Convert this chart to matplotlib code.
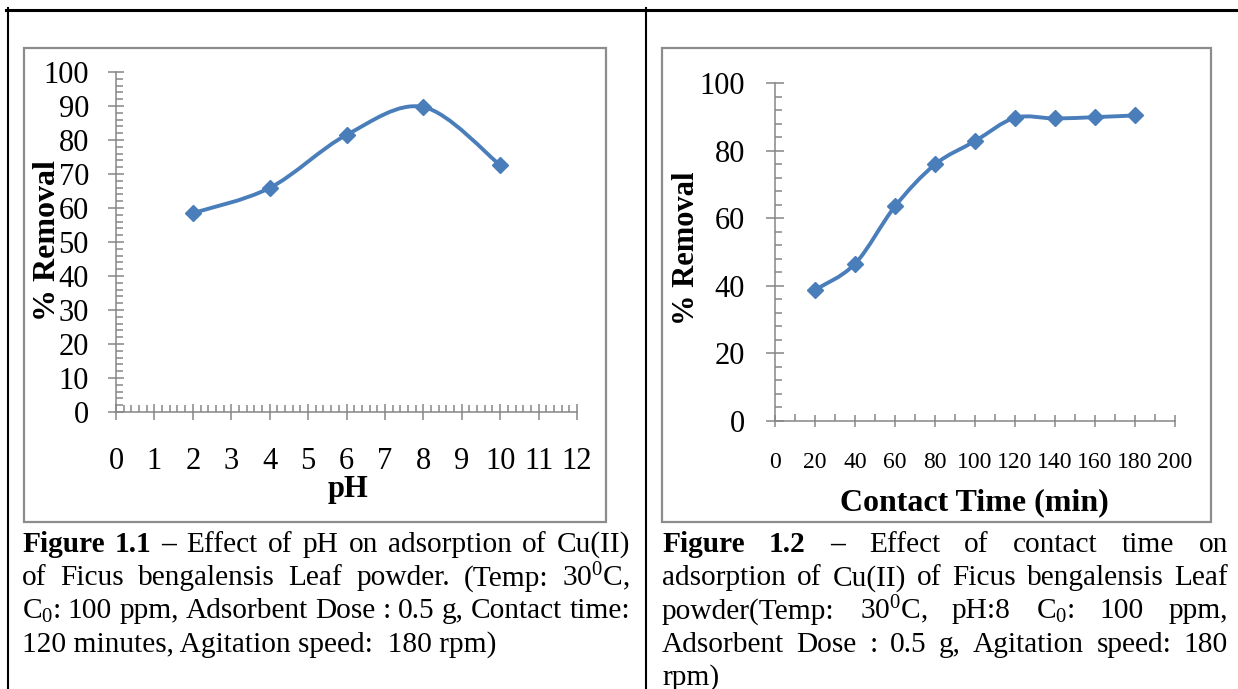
"""
Two Excel-style adsorption charts laid out as a two-cell document table
with justified captions underneath (Cu(II) on Ficus bengalensis leaf powder).
"""

import matplotlib
matplotlib.use("Agg")
import matplotlib.pyplot as plt
from matplotlib.lines import Line2D
from matplotlib.patches import PathPatch, Rectangle
from matplotlib.path import Path
from matplotlib.ticker import MultipleLocator
import numpy as np

plt.rcParams.update({
    "font.family":      ["Liberation Serif", "DejaVu Serif"],
    "mathtext.fontset": "custom",
    "mathtext.rm":      "Liberation Serif",
    "mathtext.bf":      "Liberation Serif:bold",
    "mathtext.default": "regular",
})

W, H, DPI = 1238, 689, 100

# Figure 1.1 – effect of pH
ph = [2, 4, 6, 8, 10]
ph_removal = [58.5, 65.9, 81.5, 89.7, 72.6]

# Figure 1.2 – effect of contact time
contact_time = [20, 40, 60, 80, 100, 120, 140, 160, 180]
time_removal = [38.8, 46.5, 63.5, 75.9, 82.8, 89.7, 89.5, 89.9, 90.4]

CAPTION_1 = [
    "Figure 1.1 – Effect of  pH on adsorption of Cu(II)",
    "of Ficus bengalensis Leaf powder. (Temp: 30$^0$C,",
    "C$_0$: 100 ppm, Adsorbent Dose : 0.5 g, Contact time:",
    "120 minutes, Agitation speed:  180 rpm)",
]
CAPTION_2 = [
    "Figure 1.2 – Effect of contact time on",
    "adsorption of  Cu(II) of  Ficus bengalensis Leaf",
    "powder(Temp:  30$^0$C,  pH:8  C$_0$:  100  ppm,",
    "Adsorbent Dose : 0.5 g, Agitation speed:  180",
    "rpm)",
]
BOLD_WORDS = 3  # "Figure 1.x –"

LINE_BLUE = "#4a7ebb"
AXIS_GREY = "#868686"
BOX_GREY = "#8c8c8c"


fig = plt.figure(figsize=(W / DPI, H / DPI), dpi=DPI)
fig.patch.set_facecolor("white")


def fx(x):
    return x / W


def fy(y):
    return 1 - y / H


def smooth_path(xs, ys):
    """Excel-like smoothed line: cubic Bezier through every point."""
    pts = np.column_stack([xs, ys]).astype(float)
    n = len(pts)
    verts, codes = [pts[0]], [Path.MOVETO]
    for i in range(n - 1):
        p0, p1 = pts[max(i - 1, 0)], pts[i]
        p2, p3 = pts[i + 1], pts[min(i + 2, n - 1)]
        verts += [p1 + (p2 - p0) / 6, p2 - (p3 - p1) / 6, p2]
        codes += [Path.CURVE4] * 3
    return Path(verts, codes)


def make_chart(box, xlim, xmaj, xmin, ymaj, ymin):
    x0, y_top, x1, y_bot = box
    ax = fig.add_axes([fx(x0), fy(y_bot), (x1 - x0) / W, (y_bot - y_top) / H])
    ax.set_facecolor("none")
    ax.set_xlim(*xlim)
    ax.set_ylim(0, 100)
    for side in ("top", "right"):
        ax.spines[side].set_visible(False)
    for side in ("left", "bottom"):
        ax.spines[side].set_color(AXIS_GREY)
        ax.spines[side].set_linewidth(1.1)
    ax.xaxis.set_major_locator(MultipleLocator(xmaj))
    ax.xaxis.set_minor_locator(MultipleLocator(xmin))
    ax.yaxis.set_major_locator(MultipleLocator(ymaj))
    ax.yaxis.set_minor_locator(MultipleLocator(ymin))
    ax.tick_params(which="major", direction="inout", color=AXIS_GREY, width=1.1)
    ax.tick_params(which="minor", direction="in", color=AXIS_GREY, width=1.1, length=5)
    return ax


def draw_series(ax, xs, ys):
    ax.add_patch(PathPatch(smooth_path(xs, ys), fill=False, ec=LINE_BLUE,
                           lw=2.8, capstyle="round", joinstyle="round",
                           clip_on=False))
    ax.plot(xs, ys, "D", color=LINE_BLUE, ms=8, mec=LINE_BLUE, clip_on=False)


def draw_caption(lines, left, right, first_baseline, step, size):
    r = fig.canvas.get_renderer()
    for k, line in enumerate(lines):
        y = fy(first_baseline + k * step)
        if k == len(lines) - 1:
            fig.text(fx(left), y, line, fontsize=size, va="baseline")
            continue
        texts = []
        for j, word in enumerate(line.split()):
            bold = k == 0 and j < BOLD_WORDS
            texts.append(fig.text(0, y, word, fontsize=size, va="baseline",
                                  fontweight="bold" if bold else "normal"))
        widths = [t.get_window_extent(r).width for t in texts]
        gap = (right - left - sum(widths)) / (len(texts) - 1)
        x = left
        for t, wd in zip(texts, widths):
            t.set_x(fx(x))
            x += wd + gap


# ---------------------------------------------------------------------------
# Table frame and chart boxes
# ---------------------------------------------------------------------------
fig.add_artist(Line2D([fx(6), 1], [fy(9.5)] * 2, color="black", lw=2.2))
fig.add_artist(Line2D([fx(7.5)] * 2, [fy(8), 0], color="black", lw=1.5))
fig.add_artist(Line2D([fx(646)] * 2, [fy(8), 0], color="black", lw=1.5))

for bx0, bx1 in [(24, 606), (662, 1211)]:
    fig.add_artist(Rectangle((fx(bx0), fy(522)), (bx1 - bx0) / W, (522 - 48) / H,
                             transform=fig.transFigure, fill=False,
                             ec=BOX_GREY, lw=1.6))

# ---------------------------------------------------------------------------
# Figure 1.1 — pH
# ---------------------------------------------------------------------------
ax1 = make_chart((116, 72, 577, 412), (0, 12), 1, 0.2, 10, 2)
ax1.tick_params(axis="y", which="major", length=11, pad=14, labelsize=22)
ax1.tick_params(axis="x", which="major", length=11, pad=20, labelsize=22)
draw_series(ax1, ph, ph_removal)
ax1.set_xlabel("pH", fontsize=22, fontweight="bold", va="center")
ax1.xaxis.set_label_coords((348 - 116) / 461, (412 - 489) / 340)
ax1.set_ylabel("% Removal", fontsize=23, fontweight="bold", va="center")
ax1.yaxis.set_label_coords((48 - 116) / 461, (412 - 241) / 340)

# ---------------------------------------------------------------------------
# Figure 1.2 — contact time
# ---------------------------------------------------------------------------
ax2 = make_chart((775, 83, 1175, 421), (0, 200), 20, 10, 20, 4)
ax2.tick_params(axis="y", which="major", length=13, pad=15, labelsize=22)
ax2.tick_params(axis="x", which="major", length=9, pad=17.5, labelsize=17)
draw_series(ax2, contact_time, time_removal)
ax2.set_xlabel("Contact Time (min)", fontsize=23, fontweight="bold", va="center")
ax2.xaxis.set_label_coords((974 - 775) / 400, (421 - 503) / 338)
ax2.set_ylabel("% Removal", fontsize=22, fontweight="bold", va="center")
ax2.yaxis.set_label_coords((687 - 775) / 400, (421 - 248) / 338)

# ---------------------------------------------------------------------------
# Captions
# ---------------------------------------------------------------------------
draw_caption(CAPTION_1, 22, 630, 552, 33.2, 21.2)
draw_caption(CAPTION_2, 662, 1228, 552, 33.2, 21.2)

fig.savefig("out.png", dpi=DPI)
